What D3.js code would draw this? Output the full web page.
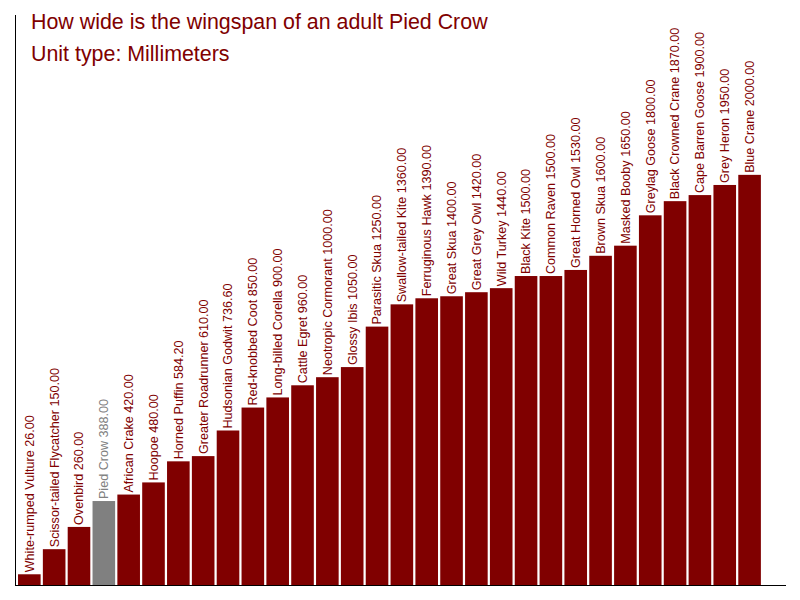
<!DOCTYPE html>
<html>
<head>
<meta charset="utf-8">
<script src="https://cdn.jsdelivr.net/npm/d3@7"></script>
<style>
  body { margin: 0; background: #fff; }
  svg { display: block; font-family: "Liberation Sans", Arial, sans-serif; }
</style>
</head>
<body>
<svg id="chart" width="800" height="600"></svg>
<script>
// bird names and wingspans (mm)
const birds = [
    'White-rumped Vulture', 'Scissor-tailed Flycatcher', 'Ovenbird', 'Pied Crow',
    'African Crake', 'Hoopoe', 'Horned Puffin', 'Greater Roadrunner',
    'Hudsonian Godwit', 'Red-knobbed Coot', 'Long-billed Corella', 'Cattle Egret',
    'Neotropic Cormorant', 'Glossy Ibis', 'Parasitic Skua', 'Swallow-tailed Kite',
    'Ferruginous Hawk', 'Great Skua', 'Great Grey Owl', 'Wild Turkey',
    'Black Kite', 'Common Raven', 'Great Horned Owl', 'Brown Skua',
    'Masked Booby', 'Greylag Goose', 'Black Crowned Crane', 'Cape Barren Goose',
    'Grey Heron', 'Blue Crane'
];
const wingspans = [
    26, 150, 260, 388,
    420, 480, 584.2, 610,
    736.6, 850, 900, 960,
    1000, 1050, 1250, 1360,
    1390, 1400, 1420, 1440,
    1500, 1500, 1530, 1600,
    1650, 1800, 1870, 1900,
    1950, 2000
];
const highlight = 'Pied Crow';
const titleLines = ['How wide is the wingspan of an adult Pied Crow', 'Unit type: Millimeters'];

const data = birds.map((b, i) => ({ name: b, value: wingspans[i] }));

const red = '#800000',
    grey = '#808080';

const svg = d3.select('#chart');

// scales
const x = d3.scaleBand()
    .domain(birds)
    .range([16.9, 762])
    .paddingInner(0.09)
    .paddingOuter(0.045);

const y = d3.scaleLinear()
    .domain([-27, 2790])
    .range([585, 15]);

const base = y.range()[0];

// bars
svg.selectAll('.bar')
    .data(data)
    .enter()
    .append('rect')
    .attr('class', 'bar')
    .attr('x', d => x(d.name))
    .attr('width', x.bandwidth())
    .attr('y', d => y(d.value))
    .attr('height', d => base - y(d.value))
    .attr('fill', d => d.name === highlight ? grey : red);

// vertical labels
svg.selectAll('.label')
    .data(data)
    .enter()
    .append('text')
    .attr('class', 'label')
    .attr('transform', d => `translate(${x(d.name) + x.bandwidth() / 2}, ${y(d.value) - 2}) rotate(-90)`)
    .attr('dy', '0.35em')
    .attr('font-size', '12.6px')
    .attr('fill', d => d.name === highlight ? grey : red)
    .text(d => `${d.name} ${d.value.toFixed(2)}`);

// axes (plain lines, no ticks)
svg.append('line')
    .attr('x1', 15.5).attr('x2', 15.5)
    .attr('y1', y.range()[1]).attr('y2', base + 0.5)
    .attr('stroke', '#000');

svg.append('line')
    .attr('x1', 15).attr('x2', 786)
    .attr('y1', base + 0.5).attr('y2', base + 0.5)
    .attr('stroke', '#000');

// title
svg.selectAll('.title')
    .data(titleLines)
    .enter()
    .append('text')
    .attr('class', 'title')
    .attr('x', 31)
    .attr('y', (d, i) => 29 + i * 32)
    .attr('font-size', '21.4px')
    .attr('fill', red)
    .text(d => d);
</script>
</body>
</html>
